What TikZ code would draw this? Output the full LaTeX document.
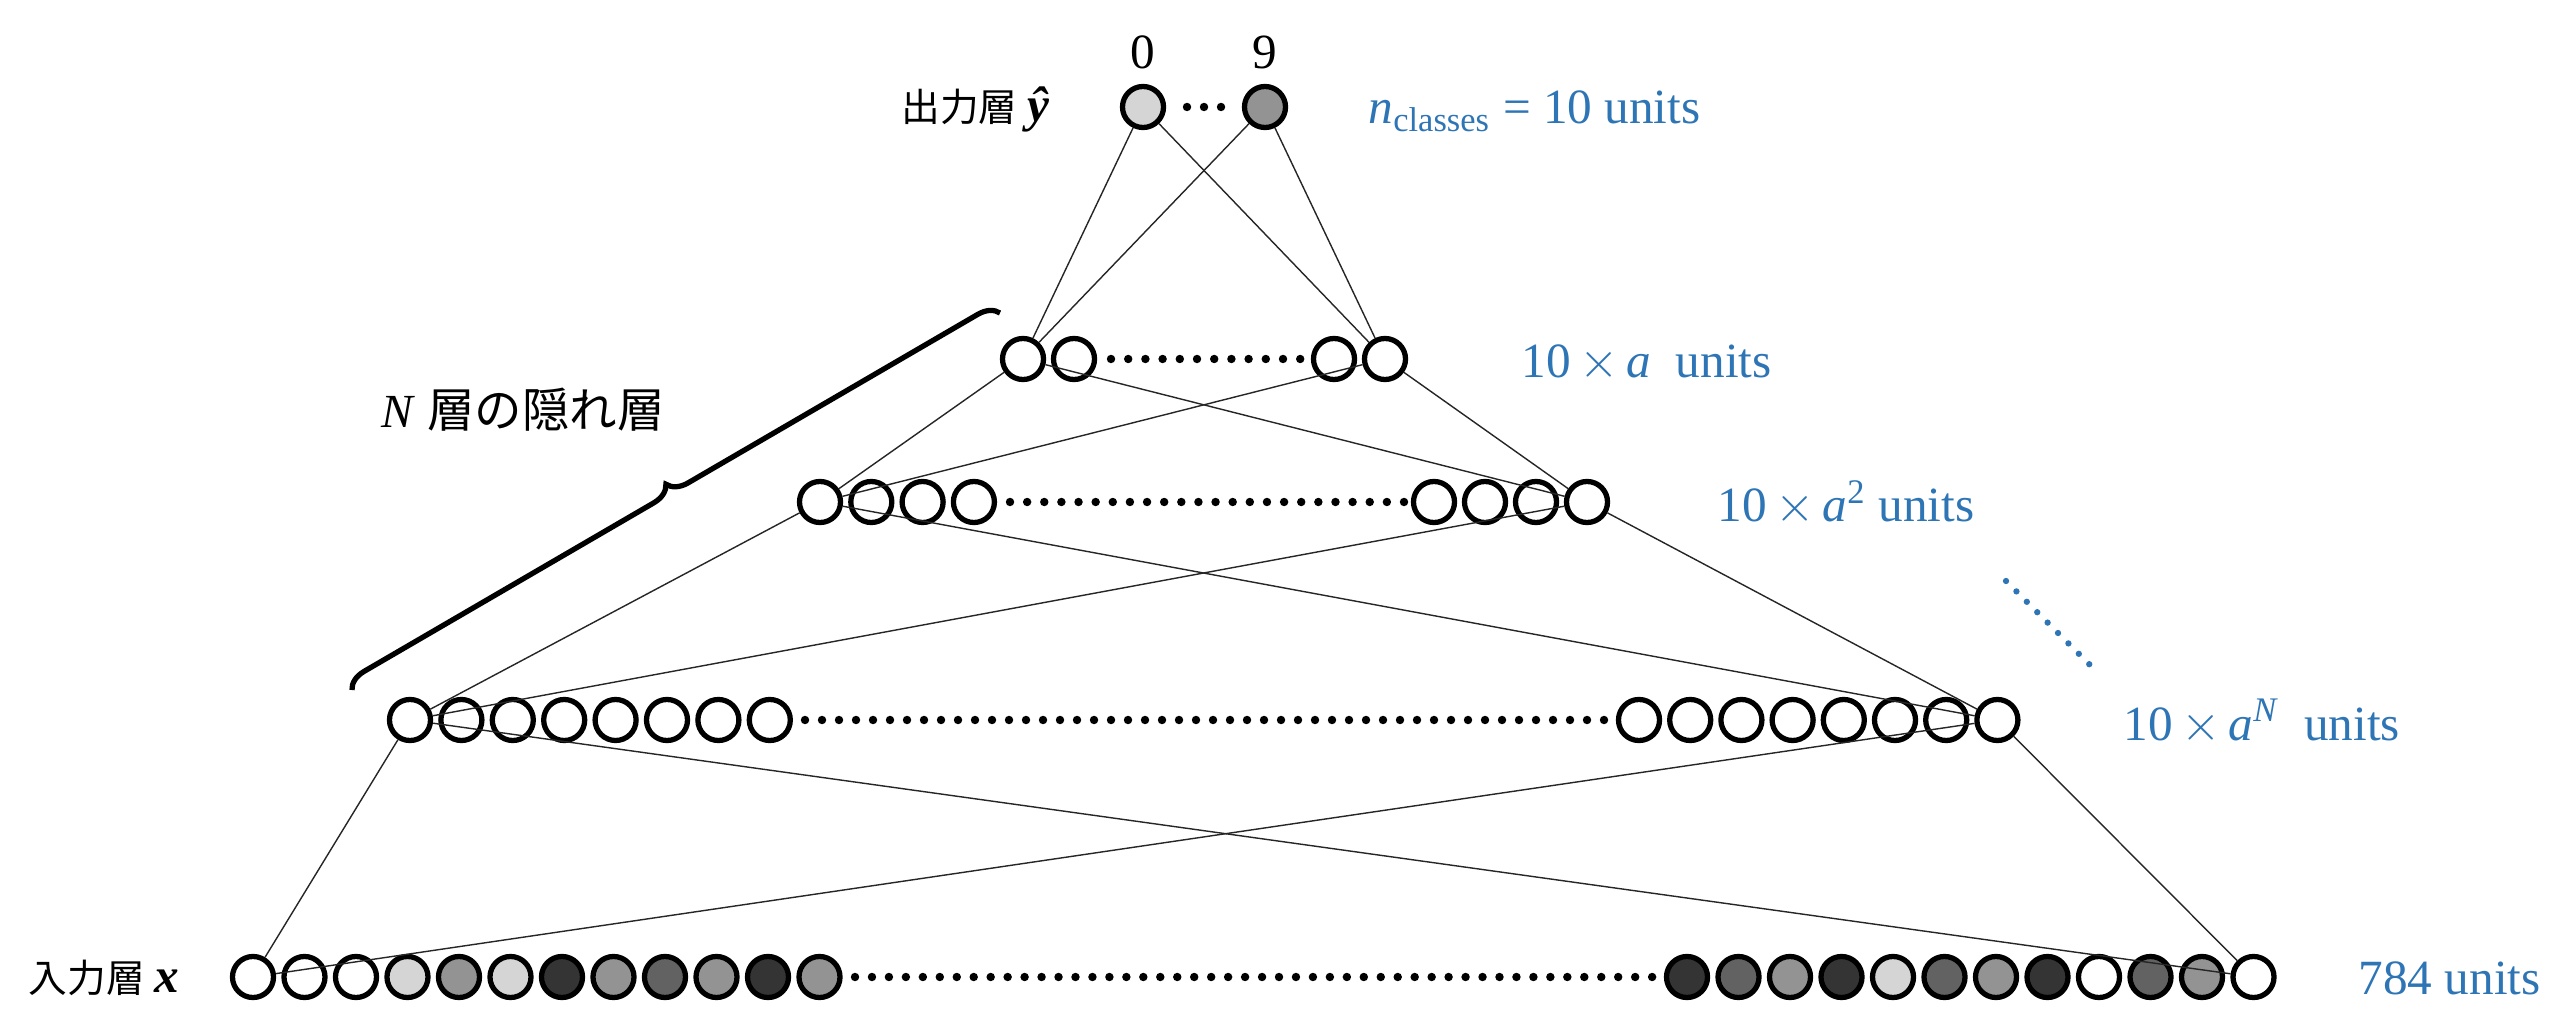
\documentclass[tikz,border=0pt]{standalone}
\usepackage{fontspec}
\setmainfont{Liberation Serif}
\newfontfamily\jpfont{Noto Sans CJK JP}
\usetikzlibrary{decorations.pathreplacing}
\definecolor{unitblue}{HTML}{2E75B6}
\definecolor{gA}{HTML}{D5D5D5}
\definecolor{gB}{HTML}{939393}
\definecolor{gC}{HTML}{626262}
\definecolor{gD}{HTML}{343434}

\begin{document}
\begin{tikzpicture}[x=0.01cm, y=-0.01cm,
  unit/.style={circle, draw, line width=1.5pt, minimum size=0.41cm, inner sep=0pt, fill=white},
  link/.style={line width=0.4pt, black!85},
  layername/.style={font=\fontsize{11}{13}\selectfont, inner sep=0pt, anchor=base east},
  unitcount/.style={font=\fontsize{14}{16}\selectfont, text=unitblue, inner sep=0pt, anchor=base west}]
\useasboundingbox (0,0) rectangle (2570,1016);
% output layer
\node[unit, fill=gA] (O_0) at (1143,107) {};
\node[unit, fill=gB] (O_9) at (1265,107) {};
\node[font=\fontsize{14}{16}\selectfont, anchor=base] (L_0) at (1143,69) {0};
\node[font=\fontsize{14}{16}\selectfont, anchor=base] (L_9) at (1265,69) {9};
\foreach \i in {0,1,2} \fill ({1187+\i*17},107) circle (1.2pt);
% hidden layers
\foreach \i in {1,2} \node[unit] (H1_\i) at ({1023+(\i-1)*51},359) {};
\foreach \i in {3,4} \node[unit] (H1_\i) at ({1334+(\i-3)*51},359) {};
\foreach \i in {0,...,11} \fill ({1111+\i*17.2},359) circle (1.2pt);
\foreach \i in {1,...,4} \node[unit] (H2_\i) at ({820+(\i-1)*51.3},502) {};
\foreach \i in {5,...,8} \node[unit] (H2_\i) at ({1434+(\i-5)*51},502) {};
\foreach \i in {0,...,23} \fill ({1010+\i*17.13},502) circle (1.2pt);
\foreach \i in {1,...,8} \node[unit] (HN_\i) at ({410+(\i-1)*51.4},720) {};
\foreach \i in {9,...,16} \node[unit] (HN_\i) at ({1639+(\i-9)*51.2},720) {};
\foreach \i in {0,...,47} \fill ({805+\i*17},720) circle (1.2pt);
% input layer
\foreach \c [count=\i] in {white,white,white,gA,gB,gA,gD,gB,gC,gB,gD,gB}
  \node[unit, fill=\c] (I_\i) at ({253+(\i-1)*51.5},977) {};
\foreach \c [count=\i from 13] in {gD,gC,gB,gD,gA,gC,gB,gD,white,gC,gB,white}
  \node[unit, fill=\c] (I_\i) at ({1687+(\i-13)*51.5},977) {};
\foreach \i in {0,...,47} \fill ({855+\i*16.96},977) circle (1.2pt);
% connections
\foreach \a in {O_0,O_9} \foreach \b in {H1_1,H1_4} \draw[link] (\a) -- (\b);
\foreach \a in {H1_1,H1_4} \foreach \b in {H2_1,H2_8} \draw[link] (\a) -- (\b);
\foreach \a in {H2_1,H2_8} \foreach \b in {HN_1,HN_16} \draw[link] (\a) -- (\b);
\foreach \a in {HN_1,HN_16} \foreach \b in {I_1,I_24} \draw[link] (\a) -- (\b);
% brace and labels
\coordinate (B_lo) at (352,690);
\coordinate (B_hi) at (1000,313);
\draw[decorate, decoration={brace, amplitude=0.2cm}, line width=1.5pt] (B_lo) -- (B_hi);
\node[font=\fontsize{13.5}{15}\selectfont, anchor=base] (hid_lbl) at (523,428) {\textit{N} {\jpfont 層の隠れ層}};
\node[layername] (out_lbl) at (1050,122) {{\jpfont 出力層} {\fontsize{14}{16}\selectfont\textbf{\textit{ŷ}}}};
\node[layername] (in_lbl) at (180,992) {{\jpfont 入力層} {\fontsize{14}{16}\selectfont\textbf{\textit{x}}}};
\node[unitcount] (n_out) at (1368,124) {\textit{n}\textsubscript{classes} = 10 units};
\node[unitcount] (n_h1) at (1521,378) {10\,$\times$\,\textit{a}\enspace units};
\node[unitcount] (n_h2) at (1717,522) {10\,$\times$\,\textit{a}\textsuperscript{2} units};
\node[unitcount] (n_hN) at (2123,740) {10\,$\times$\,\textit{a}\textsuperscript{\textit{N}}\enspace units};
\node[unitcount] (n_in) at (2358,994) {784 units};
\foreach \i in {0,...,8} \fill[unitblue] ({2006+\i*10.4},{581+\i*10.4}) circle (0.9pt);
\end{tikzpicture}
\end{document}
